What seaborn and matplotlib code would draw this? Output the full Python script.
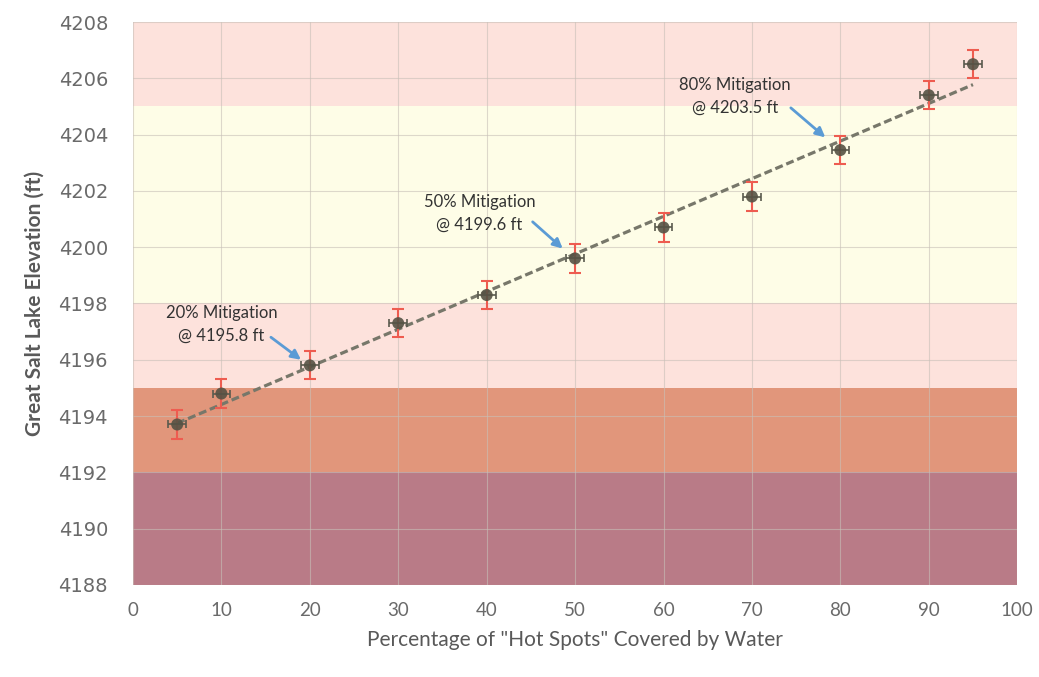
import numpy as np
import pandas as pd
import matplotlib
matplotlib.use('Agg')
import matplotlib.pyplot as plt
import seaborn as sns

# data
pct = [5, 10, 20, 30, 40, 50, 60, 70, 80, 90, 95]
elev = [4193.7, 4194.8, 4195.8, 4197.3, 4198.3, 4199.6, 4200.7, 4201.8, 4203.45, 4205.4, 4206.5]
yerr = [0.5] * 11
xerr = [1] * 11

band_lo = [4188, 4192, 4195, 4198, 4205]
band_hi = [4192, 4195, 4198, 4205, 4208]
band_colors = ['#b97b87', '#e1967b', '#fde2dc', '#fefde7', '#fde2dc']

notes = ['20% Mitigation\n@ 4195.8 ft', '50% Mitigation\n@ 4199.6 ft', '80% Mitigation\n@ 4203.5 ft']
# label placement and arrow start/end (layout only)
note_text_pos = [(10.0, 4197.25), (39.2, 4201.2), (68.1, 4205.35)]
arrow_from = [(15.6, 4196.8), (45.2, 4200.9), (74.4, 4204.95)]
arrow_to = [(19.0, 4196.0), (48.6, 4199.95), (78.3, 4203.9)]

df = pd.DataFrame({'pct': pct, 'elev': elev})

sns.set_style('white')
plt.rcParams['font.family'] = ['Lato', 'DejaVu Sans']

fig, ax = plt.subplots(figsize=(10.39, 6.77), dpi=100)
fig.subplots_adjust(left=0.128, right=0.979, top=0.9675, bottom=0.136)

for lo, hi, c in zip(band_lo, band_hi, band_colors):
    ax.axhspan(lo, hi, color=c, zorder=0, lw=0)

ax.set_xlim(0, 100)
ax.set_ylim(4188, 4208)
ax.set_xticks(np.arange(0, 101, 10))
ax.set_yticks(np.arange(4188, 4209, 2))
ax.grid(True, color='#c8c0b8', lw=0.8, alpha=0.6, zorder=1)

sns.regplot(data=df, x='pct', y='elev', scatter=False, ci=None, ax=ax,
            line_kws=dict(color='#77776a', lw=2.3, dashes=(2.5, 1.2), zorder=3))

ax.errorbar(pct, elev, yerr=yerr, fmt='none', ecolor='#ee5c50', elinewidth=1.5,
            capsize=4, capthick=1.5, zorder=4)
ax.errorbar(pct, elev, xerr=xerr, fmt='none', ecolor='#5a5a4e', elinewidth=1.2,
            capsize=3, capthick=1.2, zorder=4)
sns.scatterplot(data=df, x='pct', y='elev', ax=ax, color='#555244', s=75,
                edgecolor='none', alpha=0.9, zorder=5)

for t, tp, a0, a1 in zip(notes, note_text_pos, arrow_from, arrow_to):
    ax.text(tp[0], tp[1], t, ha='center', va='center', fontsize=12,
            color='#333333', linespacing=1.5, zorder=6)
    ax.annotate('', xy=a1, xytext=a0,
                arrowprops=dict(arrowstyle='-|>', color='#5b9bd5', lw=2,
                                shrinkA=0, shrinkB=0, mutation_scale=14),
                zorder=6)

ax.set_xlabel('Percentage of "Hot Spots" Covered by Water', fontsize=15, color='#595959', labelpad=8)
ax.set_ylabel('Great Salt Lake Elevation (ft)', fontsize=15, color='#595959', fontweight='bold', labelpad=10)
ax.tick_params(labelsize=13.5, colors='#6a6a6a', length=0)
ax.tick_params(axis='x', pad=12)
ax.tick_params(axis='y', pad=18)
for lab in ax.get_yticklabels():
    lab.set_fontfamily('DejaVu Sans')
    lab.set_fontsize(14)
sns.despine(ax=ax, left=True, bottom=True)

fig.savefig('out.png', dpi=100)
